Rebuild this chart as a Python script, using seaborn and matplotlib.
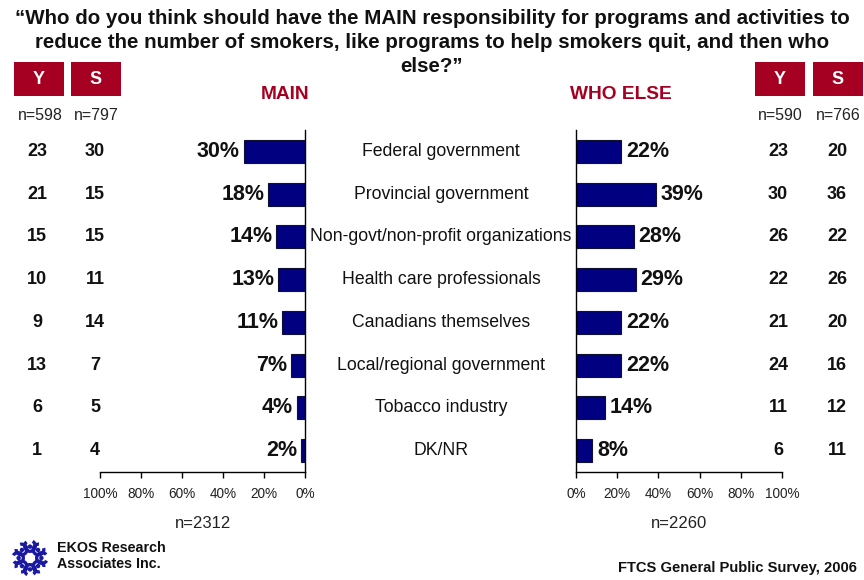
import numpy as np
import matplotlib
matplotlib.use("Agg")
import matplotlib.pyplot as plt
import matplotlib.transforms as mtransforms
from matplotlib.patches import Rectangle, Wedge
import seaborn as sns

categories = [
    "Federal government",
    "Provincial government",
    "Non-govt/non-profit organizations",
    "Health care professionals",
    "Canadians themselves",
    "Local/regional government",
    "Tobacco industry",
    "DK/NR",
]
main_pct = [30, 18, 14, 13, 11, 7, 4, 2]
else_pct = [22, 39, 28, 29, 22, 22, 14, 8]
youth_main = [23, 21, 15, 10, 9, 13, 6, 1]
smokers_main = [30, 15, 15, 11, 14, 7, 5, 4]
youth_else = [23, 30, 26, 22, 21, 24, 11, 6]
smokers_else = [20, 36, 22, 26, 20, 16, 12, 11]
x_ticks = [0, 20, 40, 60, 80, 100]
x_tick_labels = ["0%", "20%", "40%", "60%", "80%", "100%"]

sns.set_theme(style="white")
plt.rcParams["font.family"] = ["Liberation Sans", "DejaVu Sans"]

W, H = 864, 580
fig = plt.figure(figsize=(W / 100, H / 100), dpi=100)
fig.patch.set_facecolor("white")

RED = "#A50021"
NAVY = "#000080"


def fx(px):
    return px / W


def fy(py):
    return 1 - py / H


# panels: left (MAIN, reversed) and right (WHO ELSE)
axL = fig.add_axes([fx(100), fy(472), fx(205), (472 - 130) / H])
axR = fig.add_axes([fx(576), fy(472), fx(206), (472 - 130) / H])

sns.barplot(x=main_pct, y=categories, ax=axL, color=NAVY, edgecolor="#101030",
            linewidth=0.8, width=0.54, saturation=1, orient="h")
sns.barplot(x=else_pct, y=categories, ax=axR, color=NAVY, edgecolor="#101030",
            linewidth=0.8, width=0.54, saturation=1, orient="h")

axL.set_xlim(100, 0)
axR.set_xlim(0, 100)
for ax in (axL, axR):
    ax.set_ylim(7.5, -0.5)
    ax.set_ylabel("")
    ax.set_xlabel("")
    ax.set_yticks([])
    ax.set_xticks(x_ticks)
    ax.set_xticklabels(x_tick_labels, fontsize=9.8, color="#222222")
    ax.tick_params(axis="x", direction="out", length=4, width=1, color="black", pad=7, bottom=True)
    ax.spines["top"].set_visible(False)
    for s in ax.spines.values():
        s.set_color("black")
        s.set_linewidth(1)
    ax.set_facecolor("none")
axL.spines["left"].set_visible(False)
axR.spines["right"].set_visible(False)

# value labels on bars
for i, v in enumerate(main_pct):
    axL.text(v + 1.8, i, f"{v}%", ha="right", va="center", fontsize=15.5, fontweight="bold", color="#111111")
for i, v in enumerate(else_pct):
    axR.text(v + 2.2, i, f"{v}%", ha="left", va="center", fontsize=15.5, fontweight="bold", color="#111111")

# category labels between the panels
trL = mtransforms.blended_transform_factory(fig.transFigure, axL.transData)
for i, c in enumerate(categories):
    fig.text(fx(441), i, c, transform=trL, ha="center", va="center", fontsize=12.7, color="#111111")

# Y / S side columns
cols = [(37, youth_main), (95, smokers_main), (778, youth_else), (837, smokers_else)]
for xpx, vals in cols:
    for i, v in enumerate(vals):
        fig.text(fx(xpx), i, str(v), transform=trL, ha="center", va="center",
                 fontsize=13, fontweight="bold", color="#111111")

# red header boxes
for x0, lab in [(14, "Y"), (71, "S"), (755, "Y"), (813, "S")]:
    fig.patches.append(Rectangle((fx(x0), fy(96)), fx(50), 34 / H, transform=fig.transFigure,
                                 facecolor=RED, edgecolor="none"))
    fig.text(fx(x0 + 25), fy(79), lab, ha="center", va="center", fontsize=13,
             fontweight="bold", color="white")

for xpx, lab in [(40, "n=598"), (96, "n=797"), (780, "n=590"), (838, "n=766")]:
    fig.text(fx(xpx), fy(116), lab, ha="center", va="center", fontsize=11.5, color="#222222")

fig.text(fx(285), fy(95), "MAIN", ha="center", va="center", fontsize=13.8, fontweight="bold", color=RED)
fig.text(fx(621), fy(95), "WHO ELSE", ha="center", va="center", fontsize=13.8, fontweight="bold", color=RED)

title_lines = [
    "\u201cWho do you think should have the MAIN responsibility for programs and activities to",
    "reduce the number of smokers, like programs to help smokers quit, and then who",
    "else?\u201d",
]
for k, line in enumerate(title_lines):
    fig.text(fx(432), fy(18 + 24 * k), line, ha="center", va="center", fontsize=14.8,
             fontweight="bold", color="#111111")

fig.text(fx(203), fy(524), "n=2312", ha="center", va="center", fontsize=12, color="#222222")
fig.text(fx(679), fy(524), "n=2260", ha="center", va="center", fontsize=12, color="#222222")

fig.text(fx(857), fy(568), "FTCS General Public Survey, 2006", ha="right", va="center",
         fontsize=10.6, fontweight="bold", color="#111111")

# company mark: ring of small curls
axLogo = fig.add_axes([fx(10), fy(578), fx(40), 40 / H])
axLogo.set_xlim(-1.2, 1.2)
axLogo.set_ylim(-1.2, 1.2)
axLogo.set_aspect("equal")
axLogo.axis("off")
for k in range(8):
    ang = np.deg2rad(k * 45)
    cx, cy = 0.72 * np.cos(ang), 0.72 * np.sin(ang)
    axLogo.add_patch(Wedge((cx, cy), 0.42, np.rad2deg(ang) + 40, np.rad2deg(ang) + 330,
                           width=0.2, facecolor="#1a1aa0", edgecolor="none"))
    axLogo.add_patch(plt.Circle((cx * 0.95, cy * 0.95), 0.09, color="#1a1aa0"))

fig.text(fx(57), fy(548), "EKOS Research", ha="left", va="center", fontsize=10.3,
         fontweight="bold", color="#111111")
fig.text(fx(57), fy(564), "Associates Inc.", ha="left", va="center", fontsize=10.3,
         fontweight="bold", color="#111111")

fig.savefig("out.png", dpi=100, facecolor="white")
